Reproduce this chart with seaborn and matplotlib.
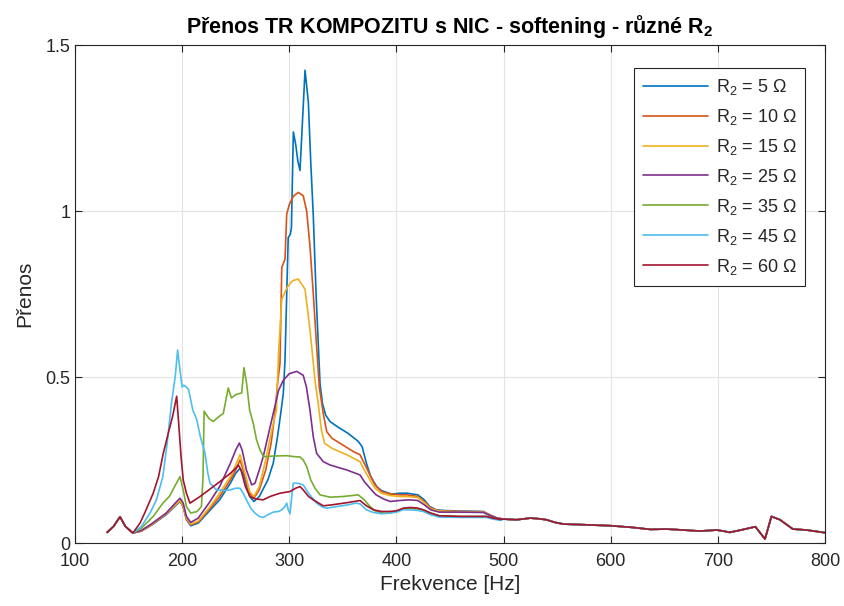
import numpy as np
import pandas as pd
import matplotlib
matplotlib.use("Agg")
import matplotlib.pyplot as plt
import seaborn as sns

# ---------------- data ----------------
labels = ["R$_2$ = 5 Ω", "R$_2$ = 10 Ω", "R$_2$ = 15 Ω", "R$_2$ = 25 Ω",
          "R$_2$ = 35 Ω", "R$_2$ = 45 Ω", "R$_2$ = 60 Ω"]
colors = ["#0072BD", "#D95319", "#EDB120", "#7E2F8E", "#77AC30", "#4DBEEE", "#A2142F"]

freq_head = [130, 136, 142, 147, 154]
val_head = [0.032, 0.050, 0.079, 0.050, 0.030]

freq_tail = [500, 512, 525, 533, 540, 548, 556, 575, 600, 620, 637, 652, 668, 683,
             699, 705, 711, 720, 735, 744, 750, 758, 770, 783, 798, 800]
val_tail = [0.072, 0.070, 0.075, 0.073, 0.070, 0.062, 0.057, 0.055, 0.052, 0.047, 0.041,
            0.042, 0.039, 0.036, 0.039, 0.036, 0.032, 0.038, 0.049, 0.012, 0.080, 0.070,
            0.042, 0.039, 0.032, 0.031]

freq_5 = [162, 172, 185, 193, 198, 201, 204, 208, 215, 225, 235, 245, 250, 254, 258, 263,
          267, 272, 280, 285, 289, 292, 294.4, 296, 297.6, 299, 301, 302, 303.8, 306, 308,
          310, 312, 314.7, 317.8, 320, 322.4, 325, 328.7, 331, 334, 338, 345, 355, 364.4,
          368, 372, 376, 381.6, 386, 395.6, 403, 410, 420, 426, 431, 437, 444, 460, 481,
          487, 494]
val_5 = [0.036, 0.055, 0.085, 0.110, 0.125, 0.110, 0.070, 0.052, 0.060, 0.095, 0.130, 0.180,
         0.210, 0.225, 0.200, 0.140, 0.125, 0.140, 0.190, 0.240, 0.320, 0.390, 0.450, 0.550,
         0.750, 0.920, 0.930, 0.950, 1.238, 1.200, 1.150, 1.122, 1.250, 1.424, 1.328, 1.150,
         0.986, 0.750, 0.480, 0.420, 0.385, 0.366, 0.350, 0.330, 0.306, 0.290, 0.240, 0.200,
         0.170, 0.158, 0.147, 0.150, 0.150, 0.145, 0.130, 0.110, 0.100, 0.098, 0.096, 0.095,
         0.085, 0.075]

freq_10 = [162, 172, 185, 193, 198, 201, 204, 208, 215, 225, 235, 245, 250, 254, 258, 263,
           267, 272, 278, 283, 287, 289, 291.3, 293, 296, 297.6, 300, 304, 308.4, 313, 316.2,
           319.3, 322.4, 325.5, 328, 331.7, 335, 340, 350, 360, 366, 370, 375.3, 380, 386,
           394, 403, 410, 420, 426, 432, 440, 460, 481, 488, 494]
val_10 = [0.036, 0.056, 0.087, 0.112, 0.127, 0.110, 0.072, 0.055, 0.063, 0.100, 0.140, 0.190,
          0.220, 0.250, 0.210, 0.150, 0.135, 0.160, 0.220, 0.300, 0.400, 0.480, 0.540, 0.830,
          0.855, 0.990, 1.020, 1.045, 1.056, 1.046, 1.000, 0.895, 0.750, 0.593, 0.470, 0.390,
          0.335, 0.315, 0.295, 0.275, 0.266, 0.240, 0.205, 0.175, 0.155, 0.148, 0.145, 0.145,
          0.140, 0.125, 0.105, 0.097, 0.095, 0.094, 0.083, 0.075]

freq_15 = [162, 172, 185, 193, 198, 201, 204, 208, 215, 225, 235, 245, 250, 254, 258, 263,
           267, 272, 278, 283, 288, 290, 293, 298, 303, 308.4, 314.7, 319.3, 324, 327, 330,
           333, 340, 353.6, 366, 370, 375.3, 380, 386, 394, 403, 410, 420, 426, 432, 440,
           460, 481, 488, 494]
val_15 = [0.037, 0.057, 0.088, 0.113, 0.128, 0.112, 0.074, 0.057, 0.066, 0.105, 0.150, 0.200,
          0.235, 0.266, 0.220, 0.155, 0.140, 0.170, 0.250, 0.330, 0.400, 0.573, 0.734, 0.770,
          0.790, 0.795, 0.764, 0.643, 0.490, 0.420, 0.340, 0.300, 0.285, 0.266, 0.245, 0.220,
          0.190, 0.165, 0.150, 0.143, 0.140, 0.140, 0.137, 0.122, 0.103, 0.096, 0.094, 0.093,
          0.082, 0.075]

freq_25 = [162, 172, 185, 193, 198, 201, 204, 208, 215, 225, 235, 245, 250, 253.4, 256, 260,
           264.9, 268, 272, 275.7, 280, 285, 290, 294.4, 300, 306.9, 313, 316, 319.3, 322.4,
           325.5, 331.7, 338, 353.6, 366, 370, 375.3, 381, 387.8, 394, 403, 412, 420, 426,
           432, 440, 460, 481, 488, 494]
val_25 = [0.038, 0.059, 0.090, 0.118, 0.135, 0.120, 0.080, 0.062, 0.075, 0.120, 0.170, 0.240,
          0.280, 0.301, 0.280, 0.220, 0.175, 0.180, 0.220, 0.260, 0.320, 0.390, 0.460, 0.490,
          0.510, 0.517, 0.505, 0.470, 0.400, 0.320, 0.270, 0.245, 0.235, 0.220, 0.205, 0.185,
          0.165, 0.145, 0.133, 0.125, 0.128, 0.130, 0.128, 0.115, 0.100, 0.093, 0.093, 0.092,
          0.082, 0.075]

freq_35 = [162, 173, 182, 188, 193, 198, 201, 204, 208, 214, 218, 219.5, 220.5, 225, 229,
           234, 238.4, 243, 246, 250, 255.6, 257.7, 260.2, 263, 266.4, 269.5, 272.7, 276,
           285, 297.6, 305, 310, 313, 316.3, 320, 324, 328.7, 338, 350, 364.4, 370, 375.3,
           381, 388, 394, 400, 406, 413, 420, 425, 432, 440, 460, 484, 490, 497]
val_35 = [0.045, 0.080, 0.120, 0.140, 0.170, 0.200, 0.160, 0.110, 0.090, 0.095, 0.110, 0.200,
          0.397, 0.375, 0.366, 0.380, 0.390, 0.467, 0.437, 0.447, 0.452, 0.528, 0.480, 0.400,
          0.360, 0.310, 0.280, 0.260, 0.262, 0.263, 0.260, 0.259, 0.250, 0.230, 0.190, 0.165,
          0.145, 0.138, 0.140, 0.145, 0.130, 0.110, 0.095, 0.090, 0.090, 0.095, 0.103, 0.105,
          0.102, 0.100, 0.090, 0.082, 0.080, 0.080, 0.075, 0.070]

freq_45 = [162, 170, 176, 182, 186, 190, 193.5, 195.8, 198, 200, 201.5, 204, 206, 210,
           213.6, 217, 221.3, 224, 226, 232, 240, 245, 250, 254, 257, 260, 264, 268, 272,
           275.7, 280, 285, 290, 293, 296, 297.6, 299, 300.7, 302, 303.7, 308, 313, 318,
           325.5, 331, 335, 345, 355, 362, 366, 372, 378.4, 386, 394, 400, 406.4, 413, 420,
           425, 432, 440, 460, 484, 490, 497]
val_45 = [0.050, 0.090, 0.130, 0.200, 0.300, 0.420, 0.500, 0.581, 0.520, 0.470, 0.475, 0.470,
          0.462, 0.400, 0.372, 0.320, 0.271, 0.210, 0.180, 0.160, 0.158, 0.160, 0.165, 0.165,
          0.150, 0.130, 0.105, 0.090, 0.080, 0.077, 0.085, 0.093, 0.095, 0.100, 0.110, 0.120,
          0.100, 0.088, 0.130, 0.180, 0.180, 0.175, 0.150, 0.120, 0.108, 0.105, 0.110, 0.115,
          0.120, 0.118, 0.100, 0.092, 0.088, 0.090, 0.093, 0.100, 0.100, 0.098, 0.095, 0.085,
          0.078, 0.077, 0.077, 0.072, 0.068]

freq_60 = [160.7, 165, 169, 173, 178, 182.4, 187, 191, 194.9, 197, 199, 201, 204, 207.3, 212,
           216.7, 225, 235.3, 245, 250, 252.4, 255, 259, 263.3, 268, 275.7, 282, 291.3, 300.7,
           306, 310, 313, 318, 322.4, 331.7, 340, 355, 366, 372, 378.4, 386, 394, 400, 406.4,
           413, 420, 425, 432, 440, 460, 484, 490, 497]
val_60 = [0.060, 0.090, 0.120, 0.150, 0.200, 0.270, 0.330, 0.380, 0.442, 0.350, 0.260, 0.190,
          0.150, 0.120, 0.130, 0.140, 0.160, 0.185, 0.210, 0.225, 0.235, 0.220, 0.170, 0.140,
          0.133, 0.130, 0.140, 0.150, 0.155, 0.165, 0.170, 0.160, 0.140, 0.130, 0.112, 0.115,
          0.122, 0.128, 0.112, 0.100, 0.095, 0.095, 0.097, 0.105, 0.107, 0.105, 0.100, 0.090,
          0.082, 0.080, 0.080, 0.075, 0.071]

series_freq = [freq_5, freq_10, freq_15, freq_25, freq_35, freq_45, freq_60]
series_val = [val_5, val_10, val_15, val_25, val_35, val_45, val_60]

rows = []
for lab, fr, vl in zip(labels, series_freq, series_val):
    f_all = freq_head + fr + freq_tail
    v_all = val_head + vl + val_tail
    for f, v in zip(f_all, v_all):
        rows.append({"Frekvence": f, "Prenos": v, "serie": lab})
df = pd.DataFrame(rows)

# ---------------- plot ----------------
sns.set_style("whitegrid")
plt.rcParams["font.family"] = ["Liberation Sans", "DejaVu Sans"]
plt.rcParams["mathtext.fontset"] = "custom"
plt.rcParams["mathtext.rm"] = "Liberation Sans"
plt.rcParams["mathtext.bf"] = "Liberation Sans:bold"

fig = plt.figure(figsize=(8.45, 6.06), dpi=100)
ax = fig.add_axes([75 / 845, 1 - 543 / 606, 750 / 845, 498 / 606])

sns.lineplot(data=df, x="Frekvence", y="Prenos", hue="serie", hue_order=labels,
             palette=colors, estimator=None, sort=False, linewidth=1.2, ax=ax)

ax.set_xlim(100, 800)
ax.set_ylim(0, 1.5)
ax.set_xticks([100, 200, 300, 400, 500, 600, 700, 800])
ax.set_yticks([0, 0.5, 1, 1.5])
ax.set_yticklabels(["0", "0.5", "1", "1.5"])
ax.grid(True, color="#E3E3E3", linewidth=0.8)
for s in ax.spines.values():
    s.set_color("#262626")
    s.set_linewidth(0.8)
    s.set_visible(True)
ax.tick_params(axis="both", direction="in", length=5, width=0.8, colors="#262626",
               labelsize=13, top=True, right=True, bottom=True, left=True)
ax.tick_params(axis="x", pad=7)

ax.set_xlabel("Frekvence [Hz]", fontsize=15, color="#262626")
ax.set_ylabel("Přenos", fontsize=15, color="#262626", labelpad=8)
ax.set_title(r"Přenos TR KOMPOZITU s NIC - softening - různé R$\mathbf{_2}$", fontsize=15.5,
             fontweight="bold", color="black", pad=9)

leg = ax.legend(loc="upper right", bbox_to_anchor=(0.986, 0.972), fontsize=13,
                frameon=True, fancybox=False, handlelength=3.6, handletextpad=0.4,
                labelspacing=0.55, borderpad=0.5, title=None)
leg.get_frame().set_edgecolor("#262626")
leg.get_frame().set_linewidth(0.8)
leg.get_frame().set_alpha(1)

fig.savefig("out.png", dpi=100)
